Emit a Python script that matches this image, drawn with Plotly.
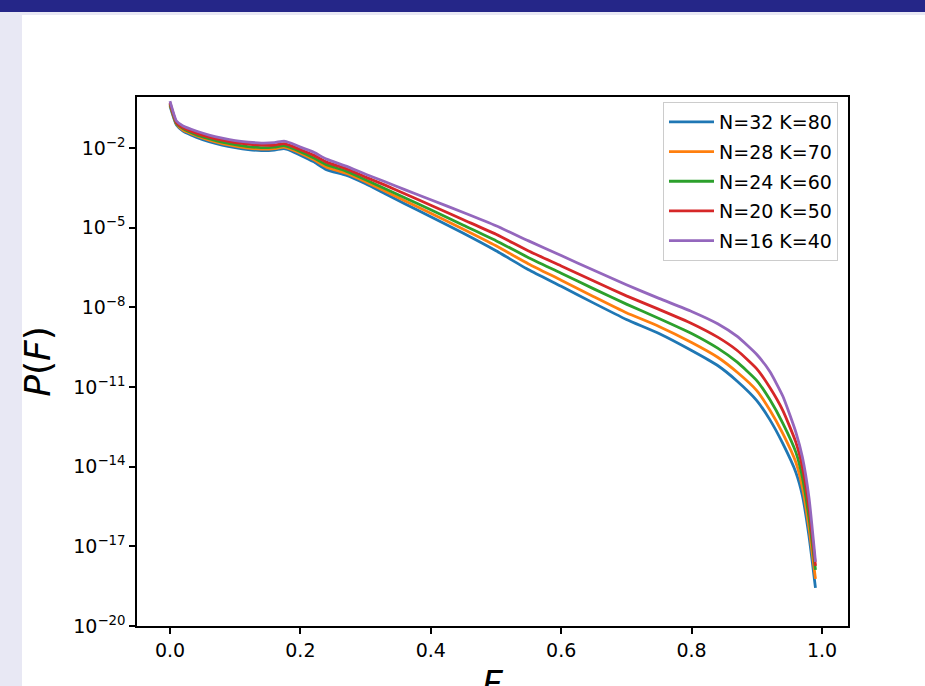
import plotly.graph_objects as go

# ---------------- data ----------------
F = [0.0, 0.01, 0.02, 0.04, 0.06, 0.08, 0.10, 0.12, 0.14, 0.16, 0.175, 0.185,
     0.20, 0.22, 0.24, 0.27, 0.30, 0.33, 0.36, 0.40, 0.45, 0.50, 0.55, 0.60,
     0.65, 0.70, 0.75, 0.80, 0.84, 0.87, 0.90, 0.92, 0.94, 0.96, 0.97, 0.98, 0.99]

P_N32_K80 = [0.385, 0.0738, 0.0439, 0.026, 0.0176, 0.013, 0.0104, 0.00877, 0.00805, 0.00841, 0.00958, 0.00805,
             0.00544, 0.0031, 0.00155, 9.57e-4, 4.57e-4, 1.92e-4, 8.05e-5, 2.60e-5, 6.2e-6, 1.36e-6, 2.62e-7, 6.25e-8,
             1.45e-8, 3.52e-9, 1.04e-9, 2.38e-10, 6.47e-11, 1.66e-11, 3.10e-12, 5.94e-13, 7.38e-14, 6.10e-15, 8.05e-16, 2.49e-17, 2.72e-19]

P_N28_K70 = [0.439, 0.0806, 0.0478, 0.0296, 0.02, 0.0148, 0.0119, 0.01, 0.00917, 0.00958, 0.0109, 0.00917,
             0.00647, 0.00368, 0.00192, 0.00114, 5.44e-4, 2.38e-4, 1.04e-4, 3.52e-5, 8.77e-6, 2.09e-6, 4.34e-7, 1.06e-7,
             2.54e-8, 6.31e-9, 1.92e-9, 4.78e-10, 1.33e-10, 3.61e-11, 7.38e-12, 1.36e-12, 1.76e-13, 1.45e-14, 1.66e-15, 5.12e-17, 5.94e-19]

P_N24_K60 = [0.478, 0.0841, 0.0545, 0.0323, 0.0228, 0.0168, 0.0136, 0.0114, 0.0104, 0.0109, 0.0124, 0.0104,
             0.00738, 0.00438, 0.00238, 0.00136, 6.48e-4, 2.96e-4, 1.36e-4, 4.78e-5, 1.24e-5, 3.26e-6, 7.45e-7, 1.95e-7,
             4.99e-8, 1.33e-8, 3.85e-9, 1.04e-9, 2.91e-10, 8.63e-11, 1.76e-11, 3.38e-12, 4.31e-13, 3.47e-14, 3.94e-15, 1.22e-16, 1.30e-18]

P_N20_K50 = [0.521, 0.0916, 0.0594, 0.0368, 0.026, 0.02, 0.0161, 0.0142, 0.013, 0.013, 0.0148, 0.0124,
             0.00877, 0.00544, 0.00296, 0.00168, 8.05e-4, 4.02e-4, 1.92e-4, 7.06e-5, 2.0e-5, 5.69e-6, 1.33e-6, 3.65e-7,
             9.82e-8, 2.72e-8, 8.41e-9, 2.49e-9, 7.57e-10, 2.38e-10, 4.86e-11, 9.57e-12, 1.30e-12, 8.26e-14, 9.42e-15, 2.91e-16, 1.84e-18]

P_N16_K40 = [0.594, 0.1045, 0.0676, 0.0439, 0.031, 0.0238, 0.0192, 0.0168, 0.0155, 0.0161, 0.0184, 0.0155,
             0.0109, 0.00706, 0.00385, 0.00209, 0.00104, 5.44e-4, 2.72e-4, 1.14e-4, 3.75e-5, 1.19e-5, 3.21e-6, 9.0e-7,
             2.49e-7, 7.13e-8, 2.19e-8, 7.06e-9, 2.43e-9, 8.05e-10, 1.68e-10, 3.85e-11, 4.50e-12, 1.97e-13, 2.24e-14, 6.95e-16, 2.60e-18]

series_names = ["N=32 K=80", "N=28 K=70", "N=24 K=60", "N=20 K=50", "N=16 K=40"]
series_values = [P_N32_K80, P_N28_K70, P_N24_K60, P_N20_K50, P_N16_K40]
colors = ["#1f77b4", "#ff7f0e", "#2ca02c", "#d62728", "#9467bd"]

x_tick_vals = [0.0, 0.2, 0.4, 0.6, 0.8, 1.0]
y_tick_vals = [1e-20, 1e-17, 1e-14, 1e-11, 1e-8, 1e-5, 1e-2]
y_tick_text = ["10<sup>\u221220</sup>", "10<sup>\u221217</sup>", "10<sup>\u221214</sup>",
               "10<sup>\u221211</sup>", "10<sup>\u22128</sup>", "10<sup>\u22125</sup>",
               "10<sup>\u22122</sup>"]
x_label = "<i>F</i>"
y_label = "<i>P</i>(<i>F</i>)"

# ---------------- layout geometry ----------------
W, H = 925, 686
L, R, T, B = 137, 848, 97, 626   # plot area in pixels
FONT = "DejaVu Sans"


def px_x(p):
    return (p - L) / (R - L)


def px_y(p):
    return (B - p) / (B - T)


fig = go.Figure()
for name, vals, col in zip(series_names, series_values, colors):
    fig.add_trace(go.Scatter(x=F, y=vals, mode="lines", name=name,
                             legendgroup=name,
                             line=dict(color=col, width=2.8, shape="spline", smoothing=0.5)))

shapes = [
    # dark header bar
    dict(type="rect", xref="paper", yref="paper", x0=px_x(0), x1=px_x(W),
         y0=px_y(12), y1=px_y(0), fillcolor="#252688", line_width=0, layer="below"),
    # thin lavender strip under header
    dict(type="rect", xref="paper", yref="paper", x0=px_x(0), x1=px_x(W),
         y0=px_y(15), y1=px_y(12), fillcolor="#e8e8f4", line_width=0, layer="below"),
    # lavender left strip
    dict(type="rect", xref="paper", yref="paper", x0=px_x(0), x1=px_x(22),
         y0=px_y(H), y1=px_y(12), fillcolor="#e8e8f4", line_width=0, layer="below"),
]

axis_common = dict(showline=True, linecolor="black", linewidth=1.5, mirror=True,
                   ticks="outside", ticklen=6, tickwidth=1.5, tickcolor="black",
                   showgrid=False, zeroline=False,
                   tickfont=dict(family=FONT, size=19, color="black"))

fig.update_layout(
    width=W, height=H,
    margin=dict(l=L, r=W - R, t=T, b=H - B, autoexpand=False),
    paper_bgcolor="white", plot_bgcolor="white",
    font=dict(family=FONT, color="black"),
    shapes=shapes,
    showlegend=True,
    legend=dict(x=px_x(838), y=px_y(102), xanchor="right", yanchor="top",
                bgcolor="rgba(255,255,255,0.8)", bordercolor="#cccccc", borderwidth=1,
                font=dict(family=FONT, size=19, color="black"),
                tracegroupgap=2, itemwidth=45),
    xaxis=dict(range=[-0.0506, 1.0399], tickvals=x_tick_vals, tickformat=".1f",
               **axis_common),
    yaxis=dict(type="log", range=[-20, -0.075], tickvals=y_tick_vals, ticktext=y_tick_text,
               title=dict(text=y_label, font=dict(family=FONT, size=36), standoff=12),
               **axis_common),
    annotations=[dict(text=x_label, xref="paper", yref="paper", x=0.5, y=px_y(661),
                      xanchor="center", yanchor="top", showarrow=False,
                      font=dict(family=FONT, size=36, color="black"))],
)

fig.write_html("out.html", config={"displayModeBar": False},
               post_script="document.body.style.margin='0';")
